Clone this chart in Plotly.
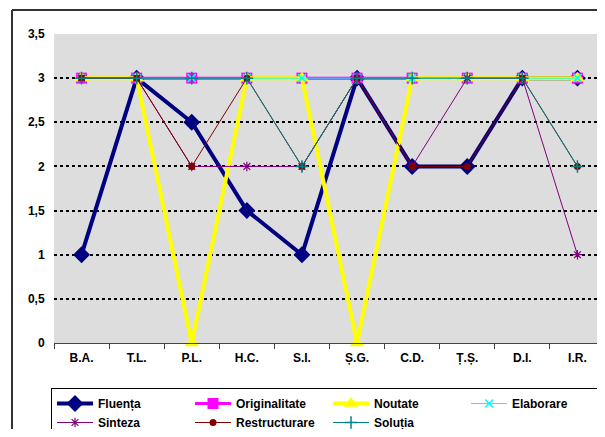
import plotly.graph_objects as go

categories = ["B.A.", "T.L.", "P.L.", "H.C.", "S.I.", "Ș.G.", "C.D.", "Ț.Ș.", "D.I.", "I.R."]
fluenta = [1, 3, 2.5, 1.5, 1, 3, 2, 2, 3, 3]
originalitate = [3, 3, 3, 3, 3, 3, 3, 3, 3, 3]
noutate = [3, 3, 0, 3, 3, 0, 3, 3, 3, 3]
elaborare = [3, 3, 3, 3, 3, 3, 3, 3, 3, 3]
sinteza = [3, 3, 2, 2, 2, 3, 2, 3, 3, 1]
restructurare = [3, 3, 2, 3, 2, 3, 2, 2, 3, 2]
solutia = [3, 3, 3, 3, 2, 3, 3, 3, 3, 2]
y_tickvals = [0, 0.5, 1, 1.5, 2, 2.5, 3, 3.5]
y_ticktext = ["0", "0,5", "1", "1,5", "2", "2,5", "3", "3,5"]

series = [
    ("Fluența", fluenta, "#000080", 4, "diamond", 13, 0),
    ("Originalitate", originalitate, "#FF00FF", 3, "square", 11, 0),
    ("Noutate", noutate, "#FFFF00", 4, "triangle-up", 13, 0),
    ("Elaborare", elaborare, "#00FFFF", 1, "x-thin-open", 8, 1.5),
    ("Sinteza", sinteza, "#800080", 1, "asterisk-open", 8, 1.2),
    ("Restructurare", restructurare, "#800000", 1, "circle", 7, 0),
    ("Soluția", solutia, "#008080", 1, "cross-thin-open", 9, 1.5),
]

fig = go.Figure()
for name, vals, color, lw, sym, ms, mlw in series:
    fig.add_trace(go.Scatter(
        x=categories, y=vals, name=name, mode="lines+markers",
        line=dict(color=color, width=lw),
        marker=dict(symbol=sym, size=ms, color=color,
                    line=dict(color=color, width=mlw)),
        cliponaxis=False,
    ))

# page body has an 8px margin; figure sized to fit the remaining window
W, H = 597, 421
L, T = 46, 26
plot_bottom = 335          # figure px of the zero line
legend_top = 380           # figure px of legend top
B = H - plot_bottom
plot_w = W - L
plot_h = plot_bottom - T

font_family = "Arial, Liberation Sans, sans-serif"
fnt = dict(family=font_family, size=12, color="black", weight="bold")

fig.update_layout(
    width=W, height=H,
    margin=dict(l=L, r=0, t=T, b=B),
    paper_bgcolor="white",
    plot_bgcolor="#DDDDDD",
    font=fnt,
    showlegend=True,
    legend=dict(
        orientation="h",
        xref="paper", yref="container",
        x=3 / plot_w, xanchor="left",
        y=1 - legend_top / H, yanchor="top",
        bgcolor="white",
        bordercolor="black",
        borderwidth=1,
        entrywidth=87, entrywidthmode="pixels",
        itemwidth=36,
        font=fnt,
        tracegroupgap=0,
    ),
    xaxis=dict(
        type="category",
        showgrid=False,
        showline=True, linecolor="#444", linewidth=1,
        ticks="outside", tickson="boundaries", ticklen=5, tickcolor="#444",
        ticklabelstandoff=4,
        tickfont=fnt,
        range=[-0.5, 9.5],
        zeroline=False,
        automargin=False,
    ),
    yaxis=dict(
        range=[0, 3.5],
        tickvals=y_tickvals, ticktext=y_ticktext,
        showgrid=True, gridcolor="black", gridwidth=2, griddash="dot",
        showline=False, zeroline=False,
        ticks="outside", ticklen=6, tickcolor="rgba(0,0,0,0)",
        tickfont=fnt,
        automargin=False,
    ),
)

# outer chart-area frame (left and top edges visible; rest is off-canvas)
fx0, fy0 = 4, 2
fx1, fy1 = W + 20, H + 20
x0p = (fx0 - L) / plot_w
x1p = (fx1 - L) / plot_w
y0p = 1 + (T - fy0) / plot_h
y1p = -(fy1 - plot_bottom) / plot_h
fig.add_shape(type="line", xref="paper", yref="paper", x0=x0p, x1=x1p, y0=y0p, y1=y0p,
              line=dict(color="#333", width=2), layer="below")
fig.add_shape(type="line", xref="paper", yref="paper", x0=x0p, x1=x0p, y0=y0p, y1=y1p,
              line=dict(color="#333", width=2), layer="below")

fig.write_html("out.html")
